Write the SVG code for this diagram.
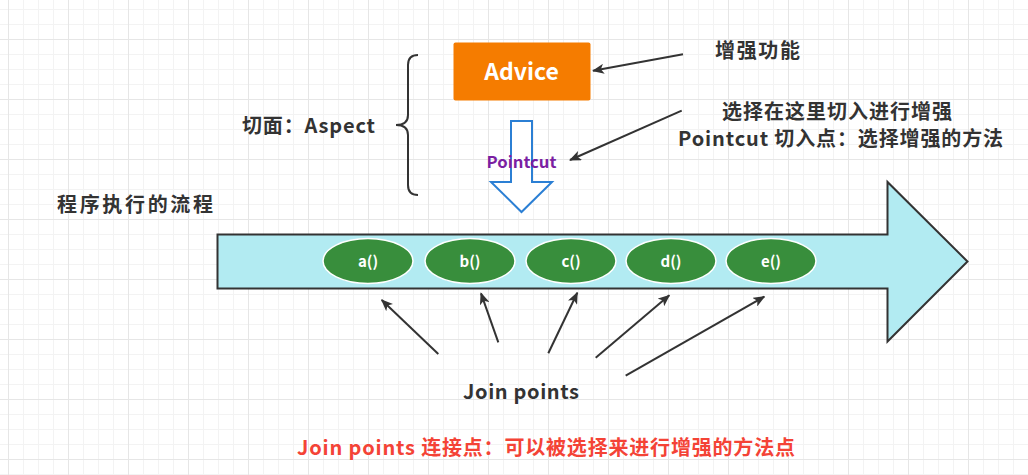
<svg xmlns="http://www.w3.org/2000/svg" width="1028" height="475" viewBox="0 0 1028 475">
  <defs>
    <pattern id="grid" x="8" y="39" width="60" height="60" patternUnits="userSpaceOnUse">
      <path d="M15.5 0V60M30.5 0V60M45.5 0V60M0 15.5H60M0 30.5H60M0 45.5H60" stroke="#f3f3f3" stroke-width="1" fill="none"/>
      <path d="M0.5 0V60M0 0.5H60" stroke="#e6e6e6" stroke-width="1" fill="none"/>
    </pattern>
    <marker id="arr" viewBox="0 0 12 10" refX="11" refY="5" markerWidth="12" markerHeight="10" markerUnits="userSpaceOnUse" orient="auto">
      <path d="M0 0L12 5L0 10L3 5Z" fill="#333333"/>
    </marker>
    <style>
      .t { font-family: "Noto Sans CJK SC", "Liberation Sans", sans-serif; font-weight: bold; }
      .dark { fill: #333333; font-size: 20px; }
      .conn { stroke: #333333; stroke-width: 2; fill: none; marker-end: url(#arr); }
      .m { fill: #388E3C; stroke: #ffffff; stroke-width: 1.5; }
      .ml { fill: #ffffff; font-size: 15px; text-anchor: middle; }
    </style>
  </defs>
  <rect x="0" y="0" width="1028" height="475" fill="#ffffff"/>
  <rect x="0" y="0" width="1028" height="475" fill="url(#grid)"/>

  <g id="process-arrow">
    <polygon points="217.5,234.5 887.5,234.5 887.5,182 967.5,261.5 887.5,341.5 887.5,288.5 217.5,288.5" fill="#B2EBF2" stroke="#333333" stroke-width="2"/>
  </g>

  <g id="method-a">
    <ellipse class="m" cx="368" cy="261" rx="45" ry="22.5"/>
    <text class="t ml" x="368" y="267">a()</text>
  </g>
  <g id="method-b">
    <ellipse class="m" cx="470" cy="261" rx="45" ry="22.5"/>
    <text class="t ml" x="470" y="267">b()</text>
  </g>
  <g id="method-c">
    <ellipse class="m" cx="571" cy="261" rx="45" ry="22.5"/>
    <text class="t ml" x="571" y="267">c()</text>
  </g>
  <g id="method-d">
    <ellipse class="m" cx="671" cy="261" rx="45" ry="22.5"/>
    <text class="t ml" x="671" y="267">d()</text>
  </g>
  <g id="method-e">
    <ellipse class="m" cx="771" cy="261" rx="45" ry="22.5"/>
    <text class="t ml" x="771" y="267">e()</text>
  </g>

  <g id="advice">
    <rect x="453.5" y="42.5" width="137" height="58" rx="2" fill="#F57C00"/>
    <text class="t" x="521.5" y="80" font-size="23" fill="#ffffff" text-anchor="middle">Advice</text>
  </g>

  <g id="pointcut">
    <polygon points="511,121 532,121 532,182 552,182 521.5,212 491,182 511,182" fill="#ffffff" stroke="#2B7FD4" stroke-width="2"/>
    <text class="t" x="521.5" y="168" font-size="16" fill="#7B1FA2" text-anchor="middle" textLength="70" lengthAdjust="spacingAndGlyphs">Pointcut</text>
  </g>

  <g id="aspect-brace">
    <path d="M418,55 Q408,55 408,65 L408,115 Q408,125 396,125 Q408,125 408,135 L408,185 Q408,195 418,195" fill="none" stroke="#333333" stroke-width="2"/>
  </g>

  <g id="labels">
    <text class="t dark" x="715" y="58.4" textLength="85">增强功能</text>
    <text class="t dark" x="722" y="119.3" textLength="230">选择在这里切入进行增强</text>
    <text class="t dark" x="678" y="145.8" textLength="325">Pointcut 切入点：选择增强的方法</text>
    <text class="t dark" x="242" y="132.6" textLength="133">切面：Aspect</text>
    <text class="t dark" x="57" y="211.6" textLength="156">程序执行的流程</text>
    <text class="t dark" x="463" y="399" textLength="116">Join points</text>
    <text class="t" x="297" y="455" font-size="20" fill="#F44336" textLength="498">Join points 连接点：可以被选择来进行增强的方法点</text>
  </g>

  <g id="connectors">
    <line class="conn" x1="683" y1="54.3" x2="593" y2="70.7"/>
    <line class="conn" x1="681.7" y1="110.7" x2="570" y2="160"/>
    <line class="conn" x1="438.3" y1="354" x2="381.7" y2="300"/>
    <line class="conn" x1="498.3" y1="342.3" x2="481" y2="293.3"/>
    <line class="conn" x1="548.3" y1="353.3" x2="577.3" y2="292.7"/>
    <line class="conn" x1="595.7" y1="357.7" x2="669.3" y2="295.3"/>
    <line class="conn" x1="625.7" y1="375.7" x2="764.3" y2="296.7"/>
  </g>
</svg>
